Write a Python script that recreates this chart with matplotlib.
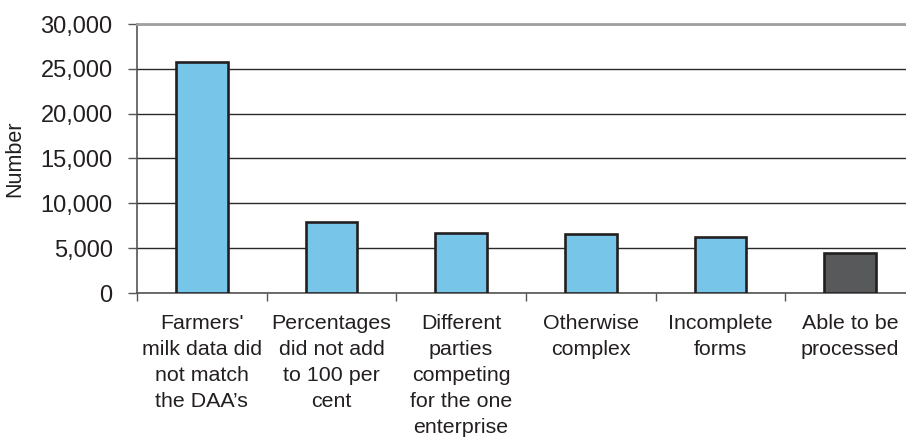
import numpy as np
import matplotlib.pyplot as plt
from matplotlib.ticker import FuncFormatter

plt.rcParams['font.family'] = ['Liberation Sans', 'DejaVu Sans']

categories = [
    "Farmers'\nmilk data did\nnot match\nthe DAA\u2019s",
    "Percentages\ndid not add\nto 100 per\ncent",
    "Different\nparties\ncompeting\nfor the one\nenterprise",
    "Otherwise\ncomplex",
    "Incomplete\nforms",
    "Able to be\nprocessed",
]
counts = [25800, 7900, 6700, 6600, 6200, 4500]
bar_colors = ['#78c5ea'] * 5 + ['#58595b']

fig = plt.figure(figsize=(9.06, 4.41), dpi=100)
ax = fig.add_axes([137 / 906, 1 - 293 / 441, 778 / 906, 269 / 441])

x = np.arange(len(categories))
ax.bar(x, counts, width=0.4, color=bar_colors, edgecolor='#231f20',
       linewidth=1.9, zorder=3)

ax.set_xlim(-0.5, len(categories) - 0.5)
ax.set_ylim(0, 30000)
ax.set_yticks(np.arange(0, 30001, 5000))
ax.yaxis.set_major_formatter(FuncFormatter(lambda v, p: f"{int(v):,}"))
ax.tick_params(axis='y', length=6.5, width=1, color='#555555', pad=11,
               labelsize=17, labelcolor='#231f20')

# category boundaries as ticks, labels centred between them
ax.set_xticks(np.arange(-0.5, len(categories), 1.0))
ax.set_xticklabels([])
ax.tick_params(axis='x', which='major', length=6, width=1, color='#555555')
ax.set_xticks(x, minor=True)
ax.set_xticklabels(categories, minor=True, fontsize=15.4, color='#231f20',
                   linespacing=1.47)
ax.tick_params(axis='x', which='minor', length=0, pad=15)

ax.yaxis.grid(True, color='#2a2a2a', linewidth=1, zorder=0)
ax.set_axisbelow(True)

for side in ['left', 'bottom']:
    ax.spines[side].set_color('#555555')
    ax.spines[side].set_linewidth(1.2)
ax.spines['top'].set_color('#a0a0a0')
ax.spines['top'].set_linewidth(2)
ax.spines['right'].set_visible(False)

ax.set_ylabel('Number', fontsize=15.5, color='#231f20')
ax.yaxis.set_label_coords(-112 / 778, 0.5)

fig.savefig('out.png', dpi=100)
